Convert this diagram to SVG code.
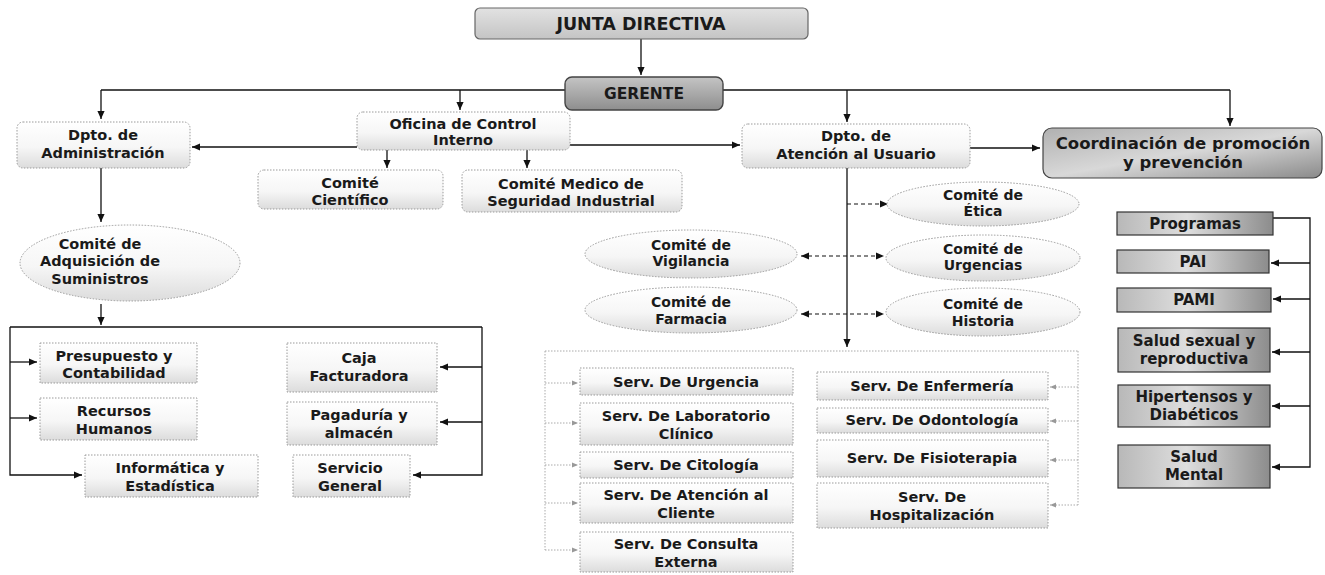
<svg xmlns="http://www.w3.org/2000/svg" width="1325" height="575" viewBox="0 0 1325 575">
<defs>
<linearGradient id="gLight" x1="0" y1="0" x2="0" y2="1"><stop offset="0" stop-color="#ffffff"/><stop offset="0.55" stop-color="#f6f6f6"/><stop offset="1" stop-color="#dcdcdc"/></linearGradient>
<linearGradient id="gJunta" x1="0" y1="0" x2="0" y2="1"><stop offset="0" stop-color="#e2e2e2"/><stop offset="1" stop-color="#c4c4c4"/></linearGradient>
<linearGradient id="gDark" x1="0" y1="0" x2="1" y2="1"><stop offset="0" stop-color="#b0b0b0"/><stop offset="0.5" stop-color="#d8d8d8"/><stop offset="1" stop-color="#8a8a8a"/></linearGradient>
<linearGradient id="gProg" x1="0" y1="0" x2="1" y2="0"><stop offset="0" stop-color="#b8b8b8"/><stop offset="0.45" stop-color="#dedede"/><stop offset="1" stop-color="#8c8c8c"/></linearGradient>
<linearGradient id="gGer" x1="0" y1="0" x2="0" y2="1"><stop offset="0" stop-color="#c4c4c4"/><stop offset="1" stop-color="#8e8e8e"/></linearGradient>
<marker id="ah" viewBox="0 0 10 10" refX="10" refY="5" markerWidth="8" markerHeight="8" markerUnits="userSpaceOnUse" orient="auto-start-reverse"><path d="M0,0.5 L10,5 L0,9.5 z" fill="#111"/></marker>
<marker id="ahg" viewBox="0 0 10 10" refX="10" refY="5" markerWidth="6" markerHeight="6" markerUnits="userSpaceOnUse" orient="auto-start-reverse"><path d="M0,1 L10,5 L0,9 z" fill="#999"/></marker>
</defs>
<style>
text{font-family:"DejaVu Sans","Liberation Sans",sans-serif;font-weight:bold;fill:#1a1a1a;text-anchor:middle}
.t13{font-size:14.5px}
.t12{font-size:14px}
.t15{font-size:15px}
.lt{fill:url(#gLight);stroke:#9a9a9a;stroke-width:1;stroke-dasharray:1.5 1.5}
.dk{fill:url(#gDark);stroke:#444;stroke-width:1.2}
.pg{fill:url(#gProg);stroke:#333;stroke-width:1.2}
.ln{fill:none;stroke:#111;stroke-width:1.3}
.dl{fill:none;stroke:#111;stroke-width:1.2;stroke-dasharray:4 3}
.fl{fill:none;stroke:#aaa;stroke-width:1;stroke-dasharray:1.5 1.5}
</style>
<rect width="1325" height="575" fill="#ffffff"/>

<g id="connectors">
<path class="ln" d="M641,39 V75" marker-end="url(#ah)"/>
<path class="ln" d="M101,90 H1230"/>
<path class="ln" d="M101,90 V119" marker-end="url(#ah)"/>
<path class="ln" d="M460,90 V110" marker-end="url(#ah)"/>
<path class="ln" d="M847,90 V122" marker-end="url(#ah)"/>
<path class="ln" d="M1230,90 V126" marker-end="url(#ah)"/>
<path class="ln" d="M357,147 H192" marker-end="url(#ah)"/>
<path class="ln" d="M570,145 H740" marker-end="url(#ah)"/>
<path class="ln" d="M970,148 H1040" marker-end="url(#ah)"/>
<path class="ln" d="M387,150 V168" marker-end="url(#ah)"/>
<path class="ln" d="M527,150 V168" marker-end="url(#ah)"/>
<path class="ln" d="M101,168 V222" marker-end="url(#ah)"/>
<path class="ln" d="M101,304 V325" marker-end="url(#ah)"/>
<path class="ln" d="M10,327 H482"/>
<path class="ln" d="M10,327 V475 H82" marker-end="url(#ah)"/>
<path class="ln" d="M10,362 H37" marker-end="url(#ah)"/>
<path class="ln" d="M10,418 H37" marker-end="url(#ah)"/>
<path class="ln" d="M482,327 V475 H413" marker-end="url(#ah)"/>
<path class="ln" d="M482,367 H440" marker-end="url(#ah)"/>
<path class="ln" d="M482,422 H440" marker-end="url(#ah)"/>
<path class="ln" d="M847,168 V347" marker-end="url(#ah)"/>
<path class="dl" d="M847,204 H888" marker-end="url(#ah)"/>
<path class="dl" d="M801,256 H884" marker-start="url(#ah)" marker-end="url(#ah)"/>
<path class="dl" d="M801,314 H884" marker-start="url(#ah)" marker-end="url(#ah)"/>
<path class="fl" d="M545,351 H1078"/>
<path class="fl" d="M545,351 V550"/>
<path class="fl" d="M545,383 H578" marker-end="url(#ahg)"/>
<path class="fl" d="M545,423 H578" marker-end="url(#ahg)"/>
<path class="fl" d="M545,465 H578" marker-end="url(#ahg)"/>
<path class="fl" d="M545,503 H578" marker-end="url(#ahg)"/>
<path class="fl" d="M545,550 H578" marker-end="url(#ahg)"/>
<path class="fl" d="M1078,351 V505"/>
<path class="fl" d="M1078,387 H1050" marker-end="url(#ahg)"/>
<path class="fl" d="M1078,421 H1050" marker-end="url(#ahg)"/>
<path class="fl" d="M1078,460 H1050" marker-end="url(#ahg)"/>
<path class="fl" d="M1078,505 H1050" marker-end="url(#ahg)"/>
<path class="ln" d="M1273,218 H1310 V467 H1272" marker-end="url(#ah)"/>
<path class="ln" d="M1310,263 H1271" marker-end="url(#ah)"/>
<path class="ln" d="M1310,299 H1273" marker-end="url(#ah)"/>
<path class="ln" d="M1310,352 H1272" marker-end="url(#ah)"/>
<path class="ln" d="M1310,406 H1272" marker-end="url(#ah)"/>
</g>

<g id="junta"><rect x="475" y="8" width="333" height="31" rx="5" fill="url(#gJunta)" stroke="#666" stroke-width="1.2"/><text x="641" y="30" style="font-size:17.5px">JUNTA DIRECTIVA</text></g>
<g id="gerente"><rect x="565" y="77" width="158" height="33" rx="7" fill="url(#gGer)" stroke="#444" stroke-width="1.4"/><text x="644" y="99" style="font-size:15.5px">GERENTE</text></g>

<g id="dpto-admin"><rect class="lt" x="17" y="122" width="173" height="46" rx="6"/><text class="t13" x="103" y="140">Dpto. de</text><text class="t13" x="103" y="158">Administración</text></g>
<g id="oficina"><rect class="lt" x="357" y="112" width="213" height="38" rx="6"/><text class="t13" x="463" y="129">Oficina de Control</text><text class="t13" x="463" y="145">Interno</text></g>
<g id="dpto-atencion"><rect class="lt" x="742" y="124" width="228" height="44" rx="6"/><text class="t13" x="856" y="141">Dpto. de</text><text class="t13" x="856" y="159">Atención al Usuario</text></g>
<g id="coordinacion"><rect class="dk" x="1043" y="128" width="279" height="50" rx="9"/><text x="1183" y="149" style="font-size:16.5px">Coordinación de promoción</text><text x="1183" y="168" style="font-size:16.5px">y prevención</text></g>

<g id="comite-cientifico"><rect class="lt" x="258" y="170" width="185" height="39" rx="6"/><text class="t13" x="350" y="188">Comité</text><text class="t13" x="350" y="205">Científico</text></g>
<g id="comite-medico"><rect class="lt" x="462" y="170" width="220" height="42" rx="6"/><text class="t13" x="571" y="189">Comité Medico de</text><text class="t13" x="571" y="206">Seguridad Industrial</text></g>

<g id="comite-adquisicion"><ellipse class="lt" cx="130" cy="263" rx="110" ry="38"/><text class="t13" x="100" y="249">Comité de</text><text class="t13" x="100" y="266">Adquisición de</text><text class="t13" x="100" y="284">Suministros</text></g>

<g id="presupuesto"><rect class="lt" x="40" y="343" width="157" height="40"/><text class="t13" x="114" y="361">Presupuesto y</text><text class="t13" x="114" y="378">Contabilidad</text></g>
<g id="recursos"><rect class="lt" x="40" y="398" width="157" height="42"/><text class="t13" x="114" y="416">Recursos</text><text class="t13" x="114" y="434">Humanos</text></g>
<g id="informatica"><rect class="lt" x="85" y="455" width="173" height="42"/><text class="t13" x="170" y="473">Informática y</text><text class="t13" x="170" y="491">Estadística</text></g>
<g id="caja"><rect class="lt" x="287" y="343" width="150" height="49"/><text class="t13" x="359" y="363">Caja</text><text class="t13" x="359" y="381">Facturadora</text></g>
<g id="pagaduria"><rect class="lt" x="287" y="402" width="150" height="43"/><text class="t13" x="359" y="420">Pagaduría y</text><text class="t13" x="359" y="438">almacén</text></g>
<g id="servicio-general"><rect class="lt" x="293" y="455" width="117" height="42"/><text class="t13" x="350" y="473">Servicio</text><text class="t13" x="350" y="491">General</text></g>

<g id="comite-etica"><ellipse class="lt" cx="983" cy="204" rx="96" ry="22"/><text class="t12" x="983" y="200">Comité de</text><text class="t12" x="983" y="216">Ética</text></g>
<g id="comite-urgencias"><ellipse class="lt" cx="983" cy="258" rx="97" ry="23"/><text class="t12" x="983" y="254">Comité de</text><text class="t12" x="983" y="270">Urgencias</text></g>
<g id="comite-historia"><ellipse class="lt" cx="983" cy="312" rx="97" ry="24"/><text class="t12" x="983" y="309">Comité de</text><text class="t12" x="983" y="326">Historia</text></g>
<g id="comite-vigilancia"><ellipse class="lt" cx="691" cy="254" rx="106" ry="24"/><text class="t12" x="691" y="250">Comité de</text><text class="t12" x="691" y="266">Vigilancia</text></g>
<g id="comite-farmacia"><ellipse class="lt" cx="691" cy="310" rx="106" ry="23"/><text class="t12" x="691" y="307">Comité de</text><text class="t12" x="691" y="324">Farmacia</text></g>

<g id="serv-urgencia"><rect class="lt" x="580" y="368" width="213" height="27"/><text class="t13" x="686" y="387">Serv. De Urgencia</text></g>
<g id="serv-laboratorio"><rect class="lt" x="580" y="403" width="213" height="42"/><text class="t13" x="686" y="421">Serv. De Laboratorio</text><text class="t13" x="686" y="439">Clínico</text></g>
<g id="serv-citologia"><rect class="lt" x="580" y="452" width="213" height="26"/><text class="t13" x="686" y="470">Serv. De Citología</text></g>
<g id="serv-atencion"><rect class="lt" x="580" y="483" width="213" height="40"/><text class="t13" x="686" y="500">Serv. De Atención al</text><text class="t13" x="686" y="518">Cliente</text></g>
<g id="serv-consulta"><rect class="lt" x="580" y="532" width="213" height="40"/><text class="t13" x="686" y="549">Serv. De Consulta</text><text class="t13" x="686" y="567">Externa</text></g>

<g id="serv-enfermeria"><rect class="lt" x="817" y="372" width="231" height="28"/><text class="t13" x="932" y="391">Serv. De Enfermería</text></g>
<g id="serv-odontologia"><rect class="lt" x="817" y="408" width="231" height="25"/><text class="t13" x="932" y="425">Serv. De Odontología</text></g>
<g id="serv-fisioterapia"><rect class="lt" x="817" y="440" width="231" height="37"/><text class="t13" x="932" y="463">Serv. De Fisioterapia</text></g>
<g id="serv-hospitalizacion"><rect class="lt" x="817" y="483" width="231" height="45"/><text class="t13" x="932" y="502">Serv. De</text><text class="t13" x="932" y="520">Hospitalización</text></g>

<g id="programas"><rect class="pg" x="1117" y="212" width="156" height="23"/><text class="t15" x="1195" y="229">Programas</text></g>
<g id="pai"><rect class="pg" x="1117" y="250" width="152" height="23"/><text class="t15" x="1193" y="267">PAI</text></g>
<g id="pami"><rect class="pg" x="1117" y="288" width="154" height="24"/><text class="t15" x="1194" y="305">PAMI</text></g>
<g id="salud-sexual"><rect class="pg" x="1118" y="328" width="152" height="44"/><text class="t15" x="1194" y="346">Salud sexual y</text><text class="t15" x="1194" y="364">reproductiva</text></g>
<g id="hipertensos"><rect class="pg" x="1118" y="385" width="152" height="42"/><text class="t15" x="1194" y="402">Hipertensos y</text><text class="t15" x="1194" y="420">Diabéticos</text></g>
<g id="salud-mental"><rect class="pg" x="1118" y="445" width="152" height="43"/><text class="t15" x="1194" y="462">Salud</text><text class="t15" x="1194" y="480">Mental</text></g>
</svg>
